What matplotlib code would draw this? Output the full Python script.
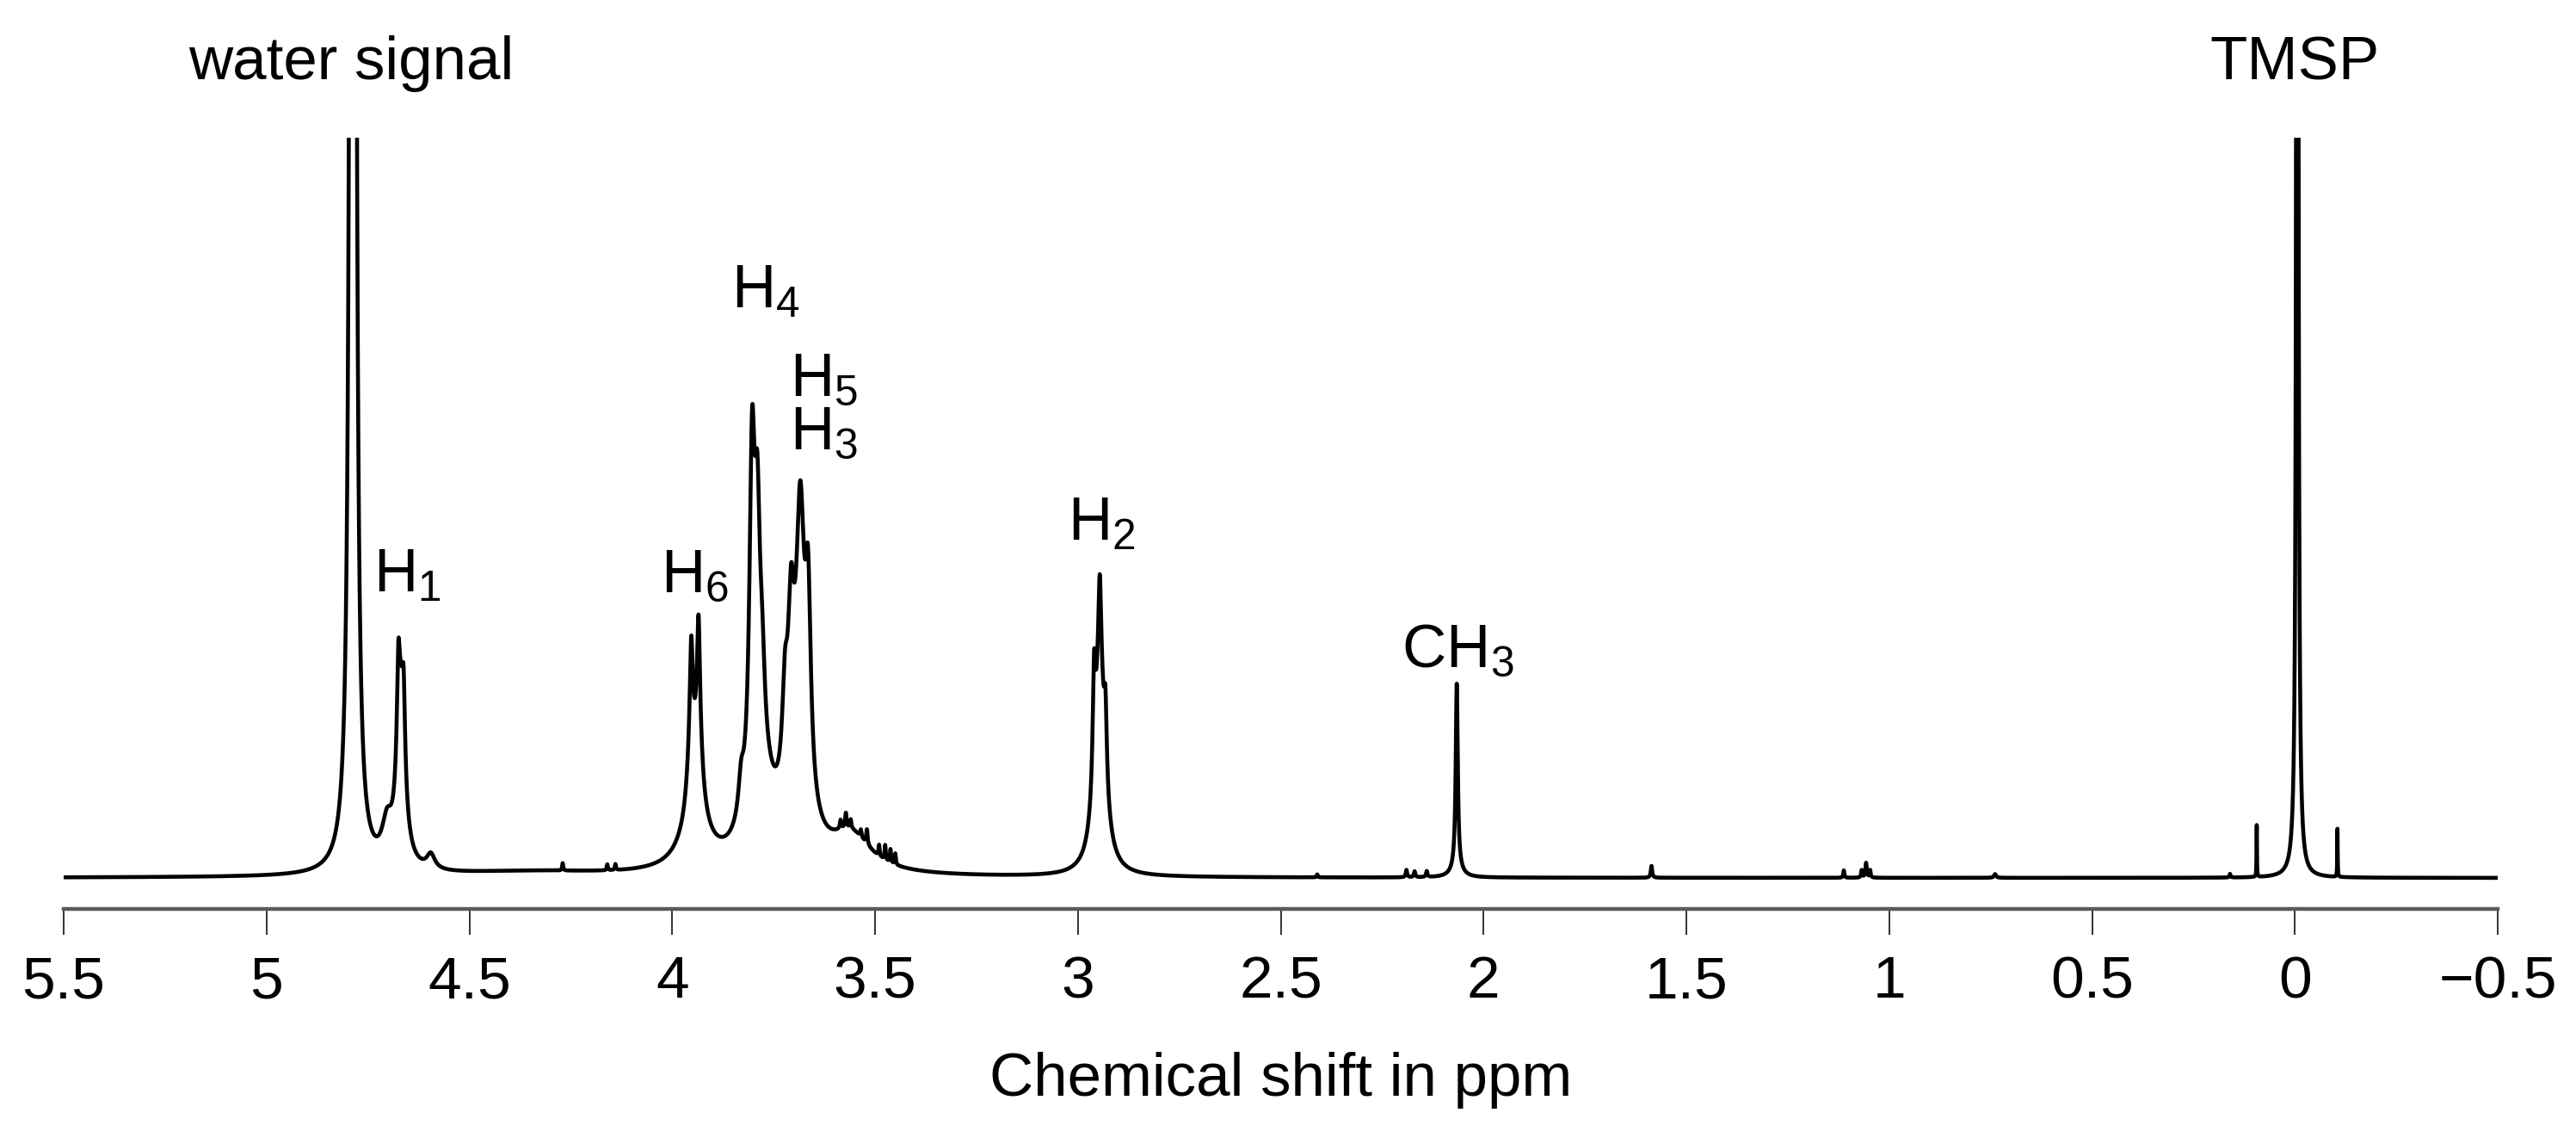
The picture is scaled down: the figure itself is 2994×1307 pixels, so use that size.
import numpy as np
import matplotlib
matplotlib.use("Agg")
import matplotlib.pyplot as plt

plt.rcParams['font.family'] = ['Liberation Sans', 'DejaVu Sans']
plt.rcParams['mathtext.fontset'] = 'custom'
plt.rcParams['mathtext.rm'] = 'Liberation Sans'
plt.rcParams['mathtext.it'] = 'Liberation Sans:italic'
plt.rcParams['mathtext.bf'] = 'Liberation Sans:bold'

# ---- spectral lines (ppm, height, half-width) ----
# height 1.0 = top edge of the plot (water and TMSP are clipped there)
peak_ppm = [
    4.787,                                           # water
    4.675, 4.662, 4.669, 4.703, 4.595,               # H1
    3.953, 3.953, 3.935, 3.935, 3.944,               # H6
    3.803, 3.790, 3.778, 3.830, 3.780,               # H4
    3.684, 3.665, 3.707, 3.722, 3.690, 3.560,        # H3 / H5
    3.585, 3.572, 3.560, 3.535, 3.520, 3.490, 3.475, 3.462, 3.450,
    2.960, 2.946, 2.932, 2.946,                      # H2
    2.066, 2.066,                                    # CH3
    -0.006, -0.006, 0.094, -0.105,                   # TMSP + satellites
    4.350, 4.270, 4.160, 4.140, 2.410, 2.190, 2.170, 2.140,
    1.586, 1.112, 1.068, 1.057, 1.047, 0.739, 0.160,
]
peak_height = [
    22.0,
    0.12, 0.10, 0.21, 0.05, 0.02,
    0.12, 0.10, 0.14, 0.11, 0.06,
    0.44, 0.30, 0.10, 0.05, 0.10,
    0.34, 0.25, 0.20, 0.12, 0.10, 0.05,
    0.012, 0.02, 0.012, 0.01, 0.02, 0.015, 0.02, 0.018, 0.015,
    0.15, 0.12, 0.10, 0.27,
    0.25, 0.012,
    12.0, 0.5, 0.07, 0.065,
    0.007, 0.01, 0.008, 0.008, 0.004, 0.01, 0.008, 0.008,
    0.016, 0.01, 0.01, 0.02, 0.01, 0.005, 0.005,
]
peak_hwhm = [
    0.0022,
    0.004, 0.004, 0.012, 0.015, 0.012,
    0.004, 0.011, 0.004, 0.011, 0.040,
    0.008, 0.008, 0.008, 0.008, 0.040,
    0.012, 0.008, 0.009, 0.008, 0.030, 0.060,
    0.002, 0.002, 0.002, 0.002, 0.002, 0.0015, 0.0015, 0.0015, 0.0015,
    0.004, 0.004, 0.004, 0.015,
    0.003, 0.015,
    0.0008, 0.0035, 0.0006, 0.0006,
    0.25, 0.0015, 0.0015, 0.0015, 0.0015, 0.002, 0.002, 0.002,
    0.002, 0.0015, 0.0015, 0.002, 0.0015, 0.003, 0.0015,
]

tick_values = [5.5, 5, 4.5, 4, 3.5, 3, 2.5, 2, 1.5, 1, 0.5, 0, -0.5]
tick_labels = ['5.5', '5', '4.5', '4', '3.5', '3', '2.5', '2', '1.5', '1',
               '0.5', '0', '\u22120.5']

label_text = ['water signal', 'TMSP', r'H$_\mathrm{1}$', r'H$_\mathrm{6}$',
              r'H$_\mathrm{4}$', r'H$_\mathrm{5}$', r'H$_\mathrm{3}$',
              r'H$_\mathrm{2}$', r'CH$_\mathrm{3}$']
label_ppm = [4.7906, 0.0, 4.652, 3.944, 3.769, 3.626, 3.626, 2.941, 2.064]
label_y = [1.079, 1.079, 0.386, 0.386, 0.770, 0.651, 0.579, 0.456, 0.285]

# ---- build spectrum ----
ppm = np.linspace(5.5, -0.5, 120001)
intensity = np.zeros_like(ppm)
for c, h, w in zip(peak_ppm, peak_height, peak_hwhm):
    intensity += h / (1.0 + ((ppm - c) / w) ** 2)

W, H, DPI = 2994, 1307, 100
fig = plt.figure(figsize=(W / DPI, H / DPI), dpi=DPI)
ax = fig.add_axes([74 / W, (H - 1056) / H, (2903 - 74) / W, 896 / H])

ax.plot(ppm, intensity, color='black', lw=3.3, solid_joinstyle='round')
ax.set_xlim(5.5, -0.5)
ax.set_ylim(-0.0419, 1.0)

for s in ['top', 'left', 'right']:
    ax.spines[s].set_visible(False)
ax.spines['bottom'].set_color('#5a5a5a')
ax.spines['bottom'].set_linewidth(3.2)
ax.set_yticks([])
ax.set_xticks(tick_values)
ax.set_xticklabels(tick_labels)
ax.tick_params(axis='x', direction='out', length=21.5, width=1.3,
               color='#222222', labelsize=50, pad=17)

ax.set_xlabel('Chemical shift in ppm', fontsize=51)
ax.xaxis.label.set_va('baseline')
ax.xaxis.set_label_coords(0.5, -(1273 - 1056) / 896)

for t, x, y in zip(label_text, label_ppm, label_y):
    ax.text(x, y, t, ha='center', va='baseline', fontsize=51, clip_on=False)

fig.savefig('out.png', dpi=DPI)
